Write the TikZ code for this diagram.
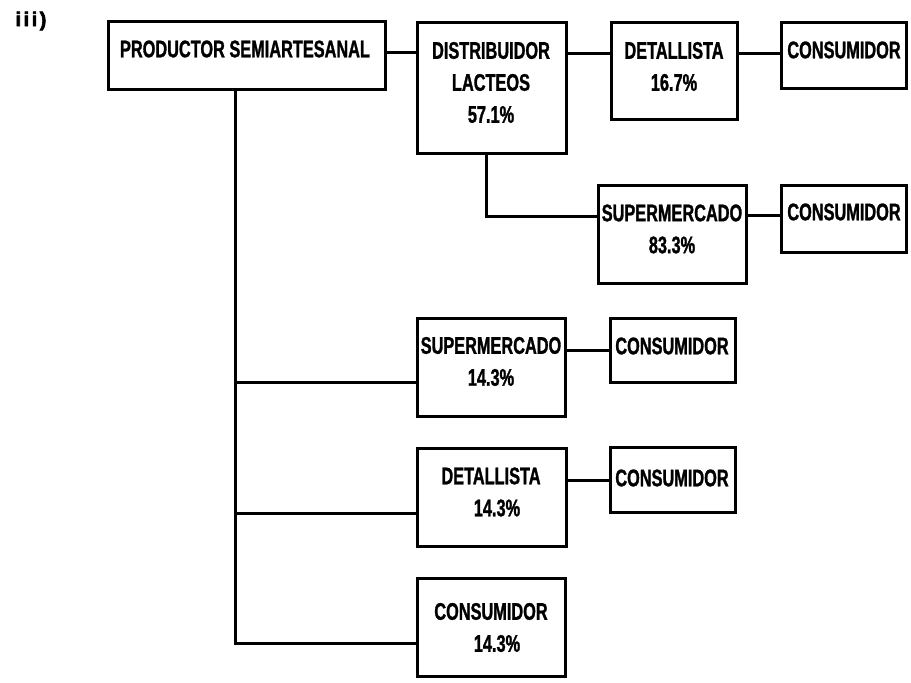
\documentclass[tikz,border=0pt]{standalone}
\usepackage{fontspec}
\setmainfont{Liberation Sans}[FakeStretch=0.68, BoldFeatures={FakeBold=1.2}]
\newfontfamily\titlefont{Liberation Sans Bold}[FakeBold=3]
\begin{document}
\begin{tikzpicture}[x=1pt,y=-1pt,
  box/.style={draw, line width=3pt, rectangle, inner sep=0pt},
  lbl/.style={font=\fontsize{24}{32}\selectfont\bfseries, align=center, inner sep=0pt},
  wire/.style={line width=3pt}]
\useasboundingbox (0,0) rectangle (911,683);
% title
\node[font=\titlefont\fontsize{20}{20}\selectfont, inner sep=0pt] (title) at (31,21) {i\kern2.5pt i\kern2.5pt i\kern2.5pt)};
% boxes
\node[box, minimum width=277pt, minimum height=68pt] (prod) at (246.5,55) {};
\node[box, minimum width=149pt, minimum height=131pt] (dist) at (491.5,87.5) {};
\node[box, minimum width=126pt, minimum height=97pt] (det1) at (674,70.5) {};
\node[box, minimum width=125pt, minimum height=66pt] (con1) at (843.5,55) {};
\node[box, minimum width=148pt, minimum height=98pt] (sup1) at (672,234) {};
\node[box, minimum width=125pt, minimum height=67pt] (con2) at (843.5,218.5) {};
\node[box, minimum width=148pt, minimum height=98pt] (sup2) at (491,367) {};
\node[box, minimum width=125pt, minimum height=64pt] (con3) at (672.5,350) {};
\node[box, minimum width=149pt, minimum height=98pt] (det2) at (491.5,497) {};
\node[box, minimum width=125pt, minimum height=65pt] (con4) at (672.5,479.5) {};
\node[box, minimum width=148pt, minimum height=98pt] (con5) at (491,627) {};
% texts
\node[lbl] (tprod) at (245,49) {PRODUCTOR SEMIARTESANAL};
\node[lbl] (tdist) at (491,82.5) {DISTRIBUIDOR\\LACTEOS\\57.1\%};
\node[lbl] (tdet1) at (674,66.5) {DETALLISTA\\16.7\%};
\node[lbl] (tcon1) at (844,50) {CONSUMIDOR};
\node[lbl] (tsup1) at (672,229) {SUPERMERCADO\\83.3\%};
\node[lbl] (tcon2) at (844,212) {CONSUMIDOR};
\node[lbl] (tsup2) at (491,361.5) {SUPERMERCADO\\14.3\%};
\node[lbl] (tcon3) at (672,346) {CONSUMIDOR};
\node[lbl] (tdet2) at (491,492) {DETALLISTA\\\hspace*{12pt}14.3\%};
\node[lbl] (tcon4) at (672,478) {CONSUMIDOR};
\node[lbl] (tcon5) at (491,627.5) {CONSUMIDOR\\\hspace*{12pt}14.3\%};
% connectors
\coordinate (tb) at (235,643);
\coordinate (db) at (486,216);
\draw[wire] (prod.east |- 0,52) -- (dist.west |- 0,52);
\draw[wire] (dist.east |- 0,53) -- (det1.west |- 0,53);
\draw[wire] (det1.east |- 0,53) -- (con1.west |- 0,53);
\draw[wire] (sup1.east |- 0,215) -- (con2.west |- 0,215);
\draw[wire] (sup2.east |- 0,350) -- (con3.west |- 0,350);
\draw[wire] (det2.east |- 0,480) -- (con4.west |- 0,480);
\draw[wire] (prod.south -| tb) -- (tb) -- (con5.west |- tb);
\draw[wire] (tb |- 0,382) -- (sup2.west |- 0,382);
\draw[wire] (tb |- 0,513) -- (det2.west |- 0,513);
\draw[wire] (dist.south -| db) -- (db) -- (sup1.west |- db);
\end{tikzpicture}
\end{document}
